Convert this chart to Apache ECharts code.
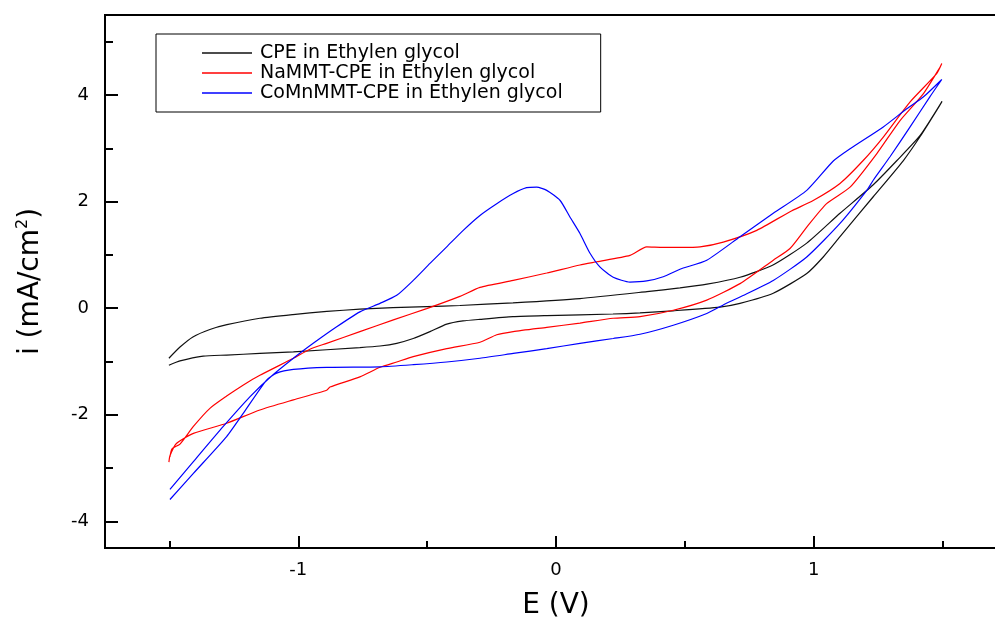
<!DOCTYPE html>
<html>
<head>
<meta charset="utf-8">
<script src="https://cdn.jsdelivr.net/npm/echarts@6/dist/echarts.min.js"></script>
<style>
  html, body { margin: 0; padding: 0; background: #fff; }
  #chart { width: 995px; height: 623px; }
</style>
</head>
<body>
<div id="chart"></div>
<script>
// Cyclic voltammograms, potential E (V) vs current density i (mA/cm2)

const seriesNames = [
  'CPE in Ethylen glycol',
  'NaMMT-CPE in Ethylen glycol',
  'CoMnMMT-CPE in Ethylen glycol'
];

// CPE: anodic sweep up to +1.5 V, then back to -1.5 V
const cpeE = [-1.502,-1.459,-1.409,-1.343,-1.277,-1.149,-1.021,-0.889,-0.761,-0.633,-0.501,-0.373,-0.167,0.093,0.353,0.481,0.586,0.714,0.842,0.973,1.102,1.23,1.323,1.413,1.498,
  1.477,1.413,1.348,1.231,1.102,1.037,0.973,0.843,0.714,0.636,0.454,0.326,0.221,-0.036,-0.167,-0.295,-0.361,-0.424,-0.489,-0.554,-0.618,-0.683,-0.761,-1.019,-1.149,-1.278,-1.369,-1.459,-1.502];
const cpeI = [-0.94,-0.73,-0.54,-0.40,-0.31,-0.19,-0.12,-0.06,-0.02,0.01,0.03,0.05,0.10,0.18,0.31,0.38,0.45,0.58,0.81,1.22,1.78,2.31,2.77,3.24,3.88,
  3.71,3.22,2.77,2.09,1.34,0.96,0.65,0.28,0.09,0.02,-0.05,-0.09,-0.11,-0.14,-0.16,-0.21,-0.24,-0.30,-0.44,-0.57,-0.66,-0.71,-0.74,-0.82,-0.85,-0.88,-0.90,-0.99,-1.07];

// NaMMT-CPE
const nammtE = [-1.498,-1.490,-1.459,-1.407,-1.343,-1.278,-1.213,-1.149,-1.019,-0.955,-0.890,-0.761,-0.631,-0.502,-0.373,-0.295,-0.166,-0.036,0.093,0.158,0.287,0.352,0.416,0.481,0.559,0.649,0.779,0.908,0.998,1.102,1.192,1.270,1.374,1.477,1.497,
  1.490,1.425,1.335,1.245,1.141,1.050,0.973,0.908,0.843,0.714,0.585,0.455,0.326,0.222,0.093,-0.036,-0.166,-0.230,-0.295,-0.424,-0.554,-0.618,-0.683,-0.761,-0.877,-0.890,-1.019,-1.149,-1.278,-1.407,-1.473,-1.498,-1.502];
const nammtI = [-2.79,-2.64,-2.55,-2.22,-1.88,-1.65,-1.44,-1.26,-0.94,-0.77,-0.66,-0.44,-0.22,-0.01,0.22,0.39,0.52,0.66,0.81,0.87,0.99,1.15,1.14,1.14,1.15,1.24,1.46,1.81,2.02,2.34,2.77,3.21,3.87,4.40,4.59,
  4.52,4.02,3.52,2.90,2.27,1.96,1.52,1.12,0.90,0.46,0.15,-0.04,-0.16,-0.19,-0.28,-0.36,-0.44,-0.50,-0.64,-0.76,-0.91,-1.01,-1.11,-1.29,-1.48,-1.54,-1.72,-1.91,-2.16,-2.35,-2.54,-2.77,-2.89];

// CoMnMMT-CPE (oxidation peak near -0.1 V)
const comnE = [-1.498,-1.407,-1.291,-1.187,-1.110,-1.019,-0.942,-0.851,-0.761,-0.683,-0.618,-0.554,-0.489,-0.424,-0.360,-0.295,-0.230,-0.166,-0.114,-0.075,-0.036,0.016,0.054,0.093,0.132,0.171,0.222,0.287,0.352,0.416,0.481,0.585,0.714,0.843,0.973,1.076,1.141,1.270,1.361,1.425,1.497,
  1.450,1.374,1.296,1.231,1.206,1.102,0.973,0.843,0.714,0.649,0.585,0.455,0.326,0.222,0.093,-0.036,-0.166,-0.295,-0.424,-0.554,-0.683,-0.890,-1.019,-1.084,-1.123,-1.213,-1.278,-1.407,-1.498];
const comnI = [-3.40,-2.88,-2.22,-1.66,-1.30,-0.94,-0.66,-0.35,-0.07,0.09,0.24,0.52,0.84,1.15,1.46,1.74,1.96,2.15,2.26,2.27,2.21,2.02,1.71,1.40,1.03,0.77,0.58,0.49,0.51,0.59,0.73,0.90,1.34,1.78,2.21,2.76,2.99,3.40,3.74,3.96,4.29,
  3.96,3.40,2.84,2.40,2.21,1.59,0.96,0.52,0.21,0.06,-0.10,-0.32,-0.49,-0.57,-0.66,-0.76,-0.85,-0.94,-1.01,-1.06,-1.10,-1.11,-1.15,-1.22,-1.35,-1.97,-2.41,-3.10,-3.59];

const seriesColors = ['#111111', '#ff0000', '#0000ff'];

// axis ticks and labels
const xMajor = [-1, 0, 1];
const xMinor = [-1.5, -0.5, 0.5, 1.5];
const yMajor = [-4, -2, 0, 2, 4];
const yMinor = [-3, -1, 1, 3, 5];
const xRange = [-1.75, 1.75];
const yRange = [-4.5, 5.5];

function zip(xs, ys) { return xs.map((x, k) => [x, ys[k]]); }
const curves = [zip(cpeE, cpeI), zip(nammtE, nammtI), zip(comnE, comnI)];

const font = 'DejaVu Sans';

const chart = echarts.init(document.getElementById('chart'), null, { renderer: 'canvas' });
chart.setOption({
  animation: false,
  backgroundColor: '#fff',
  grid: {
    left: 105, right: -12, top: 15, bottom: 75,
    outerBoundsMode: 'none', containLabel: false,
    show: true, borderColor: '#000', borderWidth: 2, backgroundColor: 'transparent'
  },
  legend: {
    orient: 'vertical',
    left: 156, top: 34,
    icon: 'rect',
    itemWidth: 50, itemHeight: 1.5, itemGap: 0,
    padding: [9, 38, 9, 46],
    borderColor: '#000', borderWidth: 1,
    textStyle: { fontFamily: font, fontSize: 19, lineHeight: 20, color: '#000', padding: [0, 0, 0, 3] },
    data: seriesNames
  },
  xAxis: [
    {
      type: 'value', min: xRange[0], max: xRange[1], position: 'bottom', offset: 0,
      name: 'E (V)', nameLocation: 'middle', nameGap: 44,
      nameTextStyle: { fontFamily: font, fontSize: 28, color: '#000' },
      axisLine: { onZero: false, lineStyle: { color: '#000', width: 2 } },
      axisTick: { inside: true, length: 12, customValues: xMajor, lineStyle: { color: '#000', width: 2 } },
      axisLabel: { customValues: xMajor, margin: 13, fontFamily: font, fontSize: 18, color: '#000' },
      splitLine: { show: false }
    },
    {
      type: 'value', min: xRange[0], max: xRange[1], position: 'bottom', offset: 0,
      axisLine: { show: false, onZero: false },
      axisTick: { inside: true, length: 7, customValues: xMinor, lineStyle: { color: '#000', width: 2 } },
      axisLabel: { show: false },
      splitLine: { show: false }
    }
  ],
  yAxis: [
    {
      type: 'value', min: yRange[0], max: yRange[1], position: 'left', offset: 0,
      name: '{t|i (mA/cm}{s|2}{t|)}', nameLocation: 'middle', nameGap: 58,
      nameTextStyle: {
        color: '#000',
        rich: {
          t: { fontFamily: font, fontSize: 28, color: '#000', lineHeight: 32 },
          s: { fontFamily: font, fontSize: 16, color: '#000', verticalAlign: 'top', lineHeight: 32 }
        }
      },
      axisLine: { onZero: false, lineStyle: { color: '#000', width: 2 } },
      axisTick: { inside: true, length: 13, customValues: yMajor, lineStyle: { color: '#000', width: 2 } },
      axisLabel: { customValues: yMajor, margin: 16, fontFamily: font, fontSize: 18, color: '#000' },
      splitLine: { show: false }
    },
    {
      type: 'value', min: yRange[0], max: yRange[1], position: 'left', offset: 0,
      axisLine: { show: false, onZero: false },
      axisTick: { inside: true, length: 8, customValues: yMinor, lineStyle: { color: '#000', width: 2 } },
      axisLabel: { show: false },
      splitLine: { show: false }
    }
  ],
  series: curves.map((pts, k) => ({
    name: seriesNames[k],
    type: 'line',
    xAxisIndex: 0, yAxisIndex: 0,
    data: pts,
    symbol: 'none', showSymbol: false,
    smooth: 0.2,
    lineStyle: { color: seriesColors[k], width: 1.2 },
    itemStyle: { color: seriesColors[k] }
  }))
});
</script>
</body>
</html>
